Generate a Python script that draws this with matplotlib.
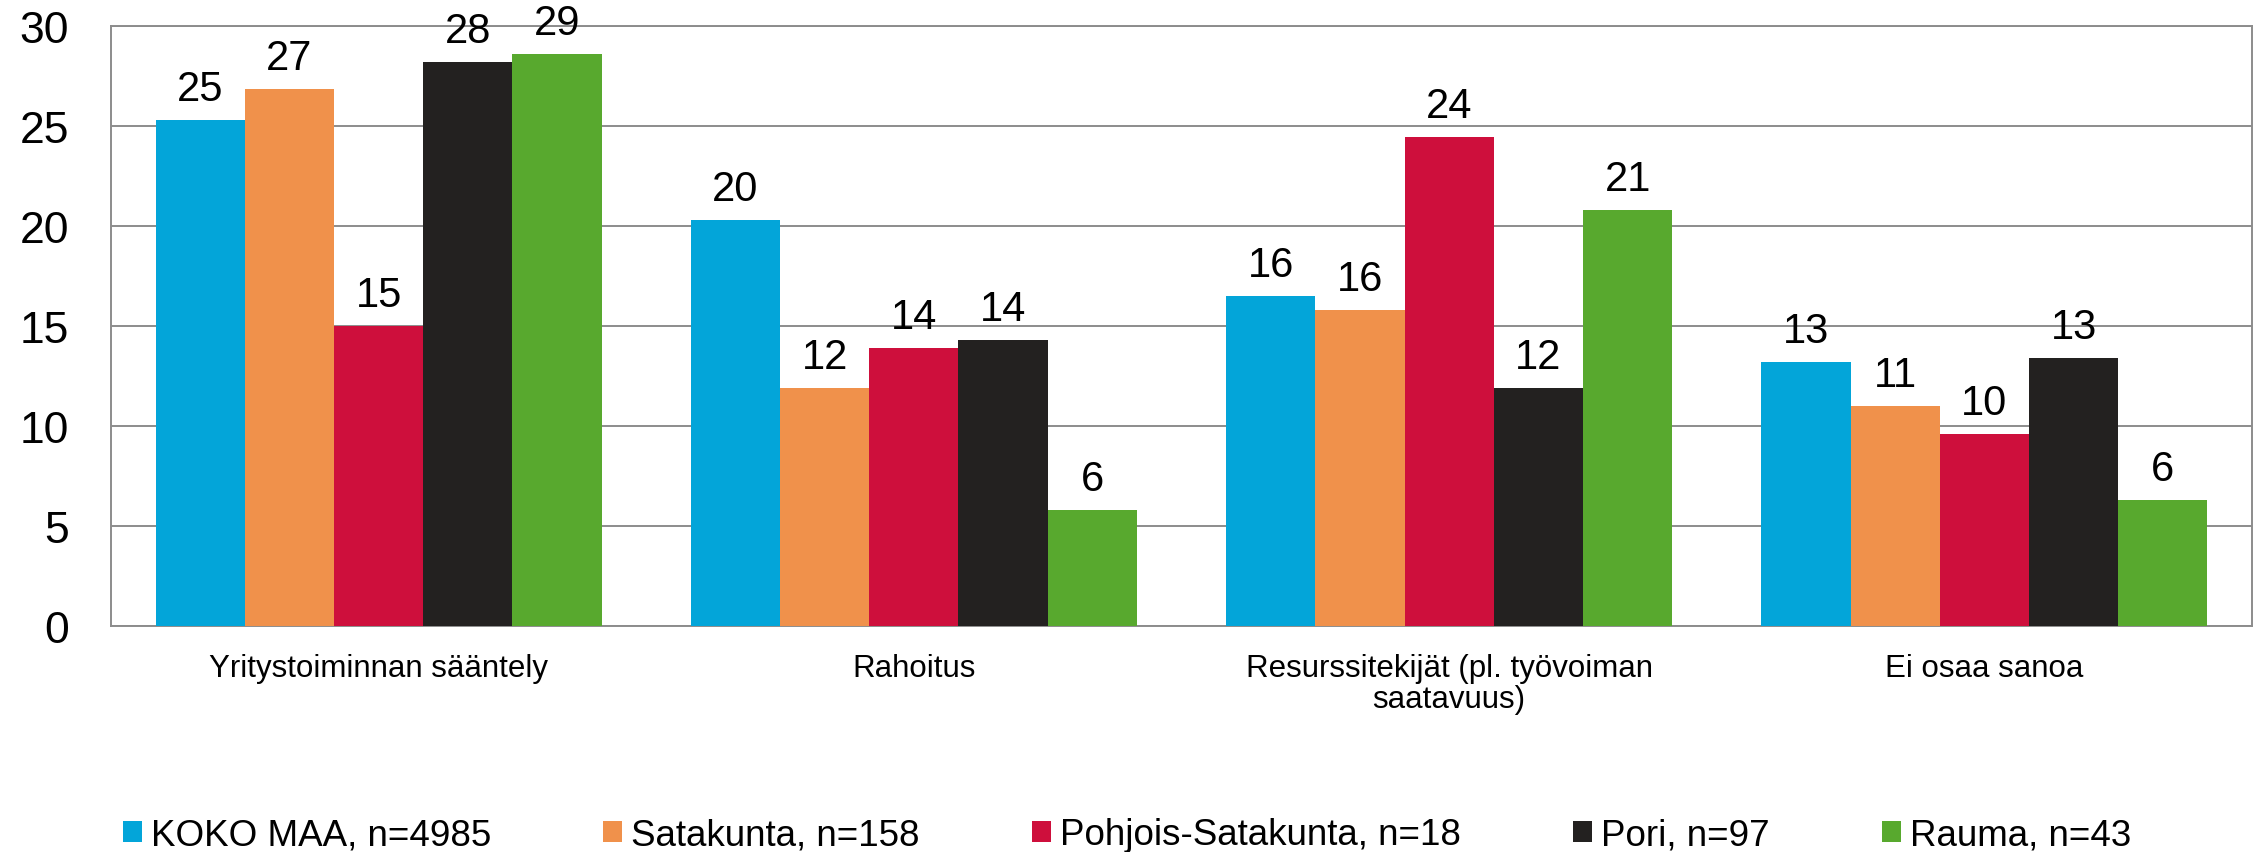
"""
plot.py — grouped bar chart of business obstacles by region (Satakunta survey).
"""

import matplotlib
import matplotlib.pyplot as plt
import numpy as np

matplotlib.use("Agg")

plt.rcParams["font.family"] = ["Liberation Sans", "DejaVu Sans"]

categories = [
    "Yritystoiminnan sääntely",
    "Rahoitus",
    "Resurssitekijät (pl. työvoiman\nsaatavuus)",
    "Ei osaa sanoa",
]
series_names = [
    "KOKO MAA, n=4985",
    "Satakunta, n=158",
    "Pohjois-Satakunta, n=18",
    "Pori, n=97",
    "Rauma, n=43",
]
koko_maa = [25.3, 20.3, 16.5, 13.2]
satakunta = [26.85, 11.9, 15.8, 11.0]
pohjois_satakunta = [15.0, 13.9, 24.45, 9.6]
pori = [28.2, 14.3, 11.9, 13.4]
rauma = [28.6, 5.8, 20.8, 6.3]

# printed labels as shown on the chart (whole percentages)
koko_maa_labels = ["25", "20", "16", "13"]
satakunta_labels = ["27", "12", "16", "11"]
pohjois_satakunta_labels = ["15", "14", "24", "10"]
pori_labels = ["28", "14", "12", "13"]
rauma_labels = ["29", "6", "21", "6"]

colors = ["#03A5D9", "#F0914B", "#CE0F3C", "#232120", "#58A92E"]
GRID = "#8C8C8C"


def plot_grouped_bars(ax: plt.Axes) -> None:
    """Draw the five regional series side by side in each category."""
    values = [koko_maa, satakunta, pohjois_satakunta, pori, rauma]
    labels = [koko_maa_labels, satakunta_labels, pohjois_satakunta_labels,
              pori_labels, rauma_labels]
    x = np.arange(len(categories))
    width = 1 / 6

    for i, (vals, labs) in enumerate(zip(values, labels)):
        offset = (i - 2) * width
        bars = ax.bar(x + offset, vals, width, color=colors[i],
                      label=series_names[i], zorder=3)
        ax.bar_label(bars, labels=labs, padding=8, fontsize=30)

    ax.set_xlim(-0.5, len(categories) - 0.5)
    ax.set_ylim(0, 30)
    ax.set_yticks(range(0, 31, 5))
    ax.set_xticks(x)
    ax.set_xticklabels(categories, fontsize=22.5, linespacing=1.05)
    ax.tick_params(axis="y", length=0, pad=30, labelsize=32)
    ax.tick_params(axis="x", length=0, pad=19)
    ax.yaxis.grid(True, color=GRID, linewidth=1.4, zorder=0)
    ax.set_axisbelow(True)
    for spine in ax.spines.values():
        spine.set_color(GRID)
        spine.set_linewidth(1.4)


fig = plt.figure(figsize=(22.6, 8.53), dpi=100)
ax = fig.add_axes([0.0491, 0.2644, 0.9474, 0.7035])
plot_grouped_bars(ax)

handles, names = ax.get_legend_handles_labels()
fig.legend(handles, names, loc="center", bbox_to_anchor=(0.4987, 1 - 836 / 853),
           ncol=5, frameon=False, fontsize=26.5, handlelength=0.52,
           handleheight=0.52, handletextpad=0.24, columnspacing=3.05,
           borderpad=0, borderaxespad=0)

fig.savefig("out.png", dpi=100)
